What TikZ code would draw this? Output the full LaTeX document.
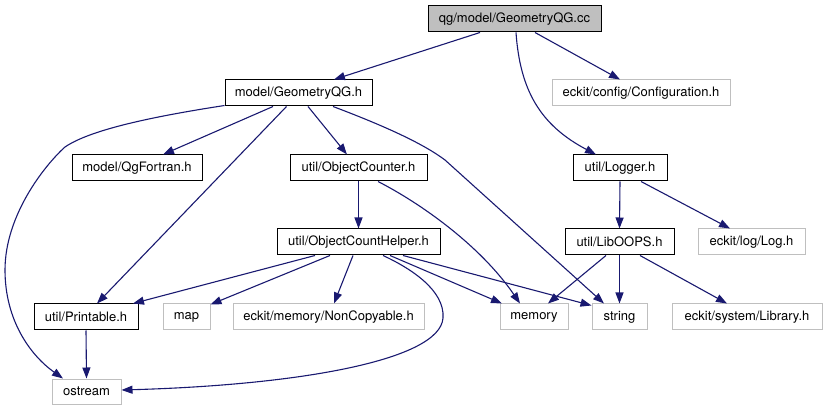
\documentclass[tikz,border=0pt]{standalone}
\usepackage{fontspec}
\setmainfont{TeX Gyre Heros}
\usetikzlibrary{arrows.meta}
\definecolor{edgec}{HTML}{191970}
\definecolor{grayb}{HTML}{BFBFBF}
\tikzset{
  nbox/.style={draw=black, line width=1pt, minimum height=26pt, inner sep=0pt, font=\fontsize{13}{14}\selectfont},
  gbox/.style={draw=grayb, line width=1pt, minimum height=26pt, inner sep=0pt, font=\fontsize{13}{14}\selectfont},
  rootbox/.style={nbox, fill=grayb},
  edge/.style={draw=edgec, line width=1.1pt, -{Triangle[length=11pt,width=8pt]}},
}
\begin{document}
\begin{tikzpicture}[x=1pt, y=-1pt]
\useasboundingbox (0,0) rectangle (827,411);
% nodes
\node[rootbox, minimum width=173pt] (root) at (514.5,19) {qg/model/GeometryQG.cc};
\node[nbox, minimum width=147pt] (gh) at (298.5,93) {model/GeometryQG.h};
\node[gbox, minimum width=178pt] (cfg) at (641,93) {eckit/config/Configuration.h};
\node[nbox, minimum width=130pt] (qgf) at (137,168) {model/QgFortran.h};
\node[nbox, minimum width=137pt] (oc) at (358.5,168) {util/ObjectCounter.h};
\node[nbox, minimum width=94pt] (lg) at (620,168) {util/Logger.h};
\node[nbox, minimum width=163pt] (och) at (358.5,242) {util/ObjectCountHelper.h};
\node[nbox, minimum width=109pt] (lib) at (619.5,242) {util/LibOOPS.h};
\node[gbox, minimum width=107pt] (logh) at (751.5,242) {eckit/log/Log.h};
\node[nbox, minimum width=104pt] (pr) at (86,317) {util/Printable.h};
\node[gbox, minimum width=47pt] (map) at (186.5,317) {map};
\node[gbox, minimum width=191pt] (nc) at (328.5,317) {eckit/memory/NonCopyable.h};
\node[gbox, minimum width=68pt] (mem) at (534,317) {memory};
\node[gbox, minimum width=55pt] (str) at (619.5,317) {string};
\node[gbox, minimum width=150pt] (libh) at (747,317) {eckit/system/Library.h};
\node[gbox, minimum width=69pt, minimum height=25pt] (os) at (86.5,391.5) {ostream};
% edges
\draw[edge] ([xshift=-34.5pt]root.south) -- ([xshift=35.5pt]gh.north);
\draw[edge] ([xshift=20.5pt]root.south) -- ([xshift=-21pt]cfg.north);
\draw[edge] ([xshift=1.5pt]root.south) .. controls (520,90) and (540,125) .. ([xshift=-24pt]lg.north);
\draw[edge] ([xshift=-25.5pt]gh.south) -- ([xshift=26pt]qgf.north);
\draw[edge] ([xshift=9.5pt]gh.south) -- ([xshift=-11.5pt]oc.north);
\draw[edge] ([xshift=-12pt]gh.south) -- ([xshift=11pt]pr.north);
\draw[edge] ([yshift=1pt]gh.south west) .. controls (150,117) and (90,130) .. (65,147)
   .. controls (45,165) and (5,215) .. (5,270)
   .. controls (5,320) and (30,355) .. ([xshift=-23.5pt]os.north);
\draw[edge] ([xshift=34.5pt]gh.south) .. controls (390,128) and (425,145) .. (445,160) -- ([xshift=-15.5pt]str.north);
\draw[edge] (oc.south) -- (och.north);
\draw[edge] ([xshift=19.5pt]oc.south) .. controls (420,203) and (480,245) .. ([xshift=-14pt]mem.north);
\draw[edge] (lg.south) -- (lib.north);
\draw[edge] ([xshift=21pt]lg.south) -- ([xshift=-21.5pt]logh.north);
\draw[edge] ([xshift=-43.5pt]och.south) -- ([xshift=47pt]pr.north);
\draw[edge] ([xshift=-28.5pt]och.south) -- ([yshift=-1pt]map.north east);
\draw[edge] ([xshift=-5.5pt]och.south) -- ([xshift=5.5pt]nc.north);
\draw[edge] ([xshift=31.5pt]och.south) -- ([xshift=-32pt]mem.north);
\draw[edge] ([xshift=44.5pt]och.south) -- ([yshift=-2pt]str.north west);
\draw[edge] ([xshift=24.5pt]och.south) .. controls (410,268) and (445,290) .. (443,318)
   .. controls (440,360) and (300,385) .. ([yshift=1.5pt]os.east);
\draw[edge] ([xshift=-13.5pt]lib.south) -- ([xshift=14pt]mem.north);
\draw[edge] (lib.south) -- (str.north);
\draw[edge] ([xshift=20.5pt]lib.south) -- ([xshift=-20pt]libh.north);
\draw[edge] (pr.south) -- (os.north);
\end{tikzpicture}
\end{document}
